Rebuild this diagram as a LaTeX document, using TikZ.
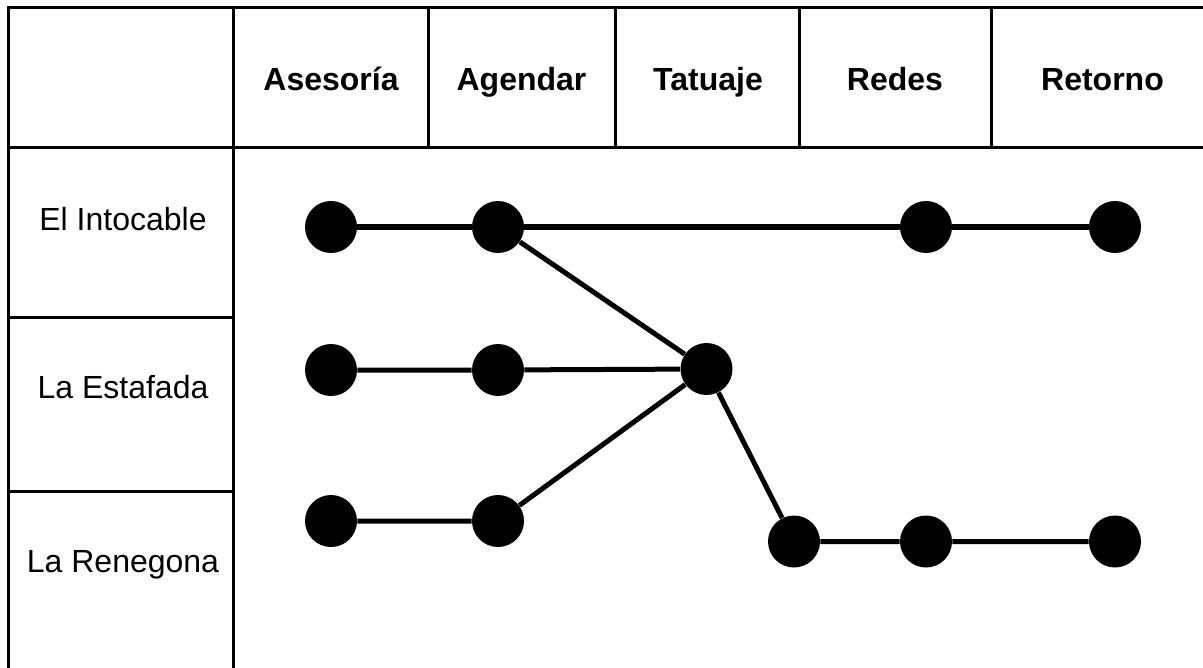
\documentclass[tikz,border=0pt]{standalone}
\usepackage{fontspec}
\setmainfont{Liberation Sans}
\begin{document}
\begin{tikzpicture}[x=0.5pt,y=-0.5pt,
  cell/.style={draw=black, line width=1.5pt},
  head/.style={font=\fontsize{16}{19}\selectfont\bfseries, anchor=base, inner sep=0pt},
  lab/.style={font=\fontsize{16}{19}\selectfont, anchor=base, inner sep=0pt},
  dot/.style={circle, fill=black, minimum size=26pt, inner sep=0pt},
  link/.style={draw=black, line width=2.5pt}]
\useasboundingbox (0,0) rectangle (1203,668);
\clip (0,0) rectangle (1203,668);

% header row
\draw[cell] (8,8) rectangle (233,148);
\draw[cell] (233,8) rectangle (428,148);
\draw[cell] (428,8) rectangle (615,148);
\draw[cell] (615,8) rectangle (799,148);
\draw[cell] (799,8) rectangle (991,148);
\draw[cell] (991,8) rectangle (1214,148);

% left column
\draw[cell] (8,148) rectangle (233,317);
\draw[cell] (8,317) rectangle (233,491);
\draw[cell] (8,491) rectangle (233,720);

% column titles
\node[head] (hA) at (331,91) {Asesoría};
\node[head] (hB) at (521.5,91) {Agendar};
\node[head] (hC) at (708,91) {Tatuaje};
\node[head] (hD) at (895,91) {Redes};
\node[head] (hE) at (1102.5,91) {Retorno};

% row titles
\node[lab] (r1) at (123,230) {El Intocable};
\node[lab] (r2) at (123,398) {La Estafada};
\node[lab] (r3) at (123,572) {La Renegona};

% stages
\node[dot] (a1) at (331,227) {};
\node[dot] (a2) at (498,227) {};
\node[dot] (a4) at (926,227) {};
\node[dot] (a5) at (1115,227) {};

\node[dot] (b1) at (331,370) {};
\node[dot] (b2) at (498,370) {};
\node[dot] (t)  at (706.5,369) {};

\node[dot] (c1) at (331,521) {};
\node[dot] (c2) at (498,521) {};

\node[dot] (d1) at (794,541.5) {};
\node[dot] (d2) at (926,541.5) {};
\node[dot] (d3) at (1115,541.5) {};

% paths
\draw[link] (a1) -- (a2) -- (a4) -- (a5);
\draw[link] (a2) -- (t);
\draw[link] (b1) -- (b2) -- (t);
\draw[link] (c1) -- (c2) -- (t);
\draw[link] (t) -- (d1) -- (d2) -- (d3);
\end{tikzpicture}
\end{document}
